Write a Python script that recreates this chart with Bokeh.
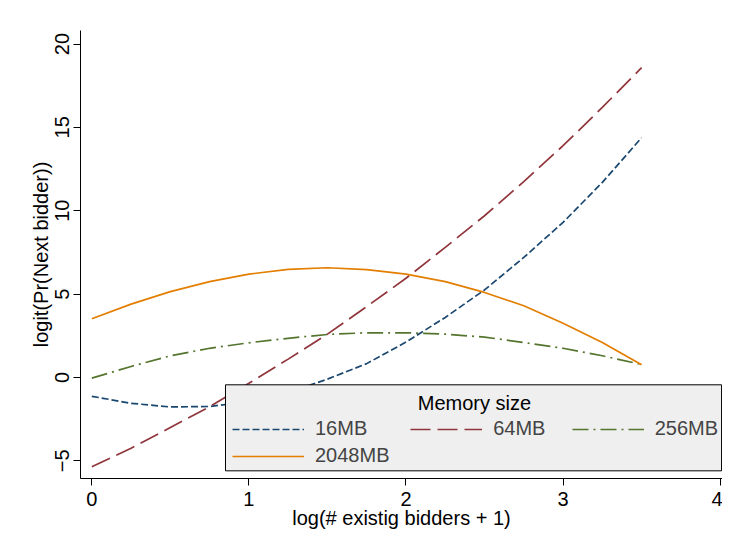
from bokeh.plotting import figure
from bokeh.models import Legend, LegendItem, Range1d, FixedTicker, Label, BoxAnnotation
from bokeh.embed import file_html
from bokeh.resources import INLINE

# ---- data ----
x_vals = [0.0, 0.25, 0.5, 0.75, 1.0, 1.25, 1.5, 1.75, 2.0, 2.25, 2.5, 2.75, 3.0, 3.25, 3.5]
mb16 = [-1.13, -1.55, -1.77, -1.74, -1.45, -0.9, -0.1, 0.83, 2.12, 3.6, 5.25, 7.2, 9.3, 11.7, 14.38]
mb64 = [-5.35, -4.25, -3.0, -1.75, -0.35, 1.1, 2.6, 4.25, 5.95, 7.8, 9.7, 11.75, 13.9, 16.2, 18.58]
mb256 = [-0.04, 0.66, 1.3, 1.75, 2.08, 2.35, 2.58, 2.68, 2.68, 2.6, 2.42, 2.1, 1.75, 1.3, 0.78]
mb2048 = [3.52, 4.4, 5.15, 5.75, 6.2, 6.48, 6.58, 6.47, 6.2, 5.75, 5.1, 4.3, 3.25, 2.1, 0.76]
series_labels = ["16MB", "64MB", "256MB", "2048MB"]
x_ticks = [0, 1, 2, 3, 4]
y_ticks = [-5, 0, 5, 10, 15, 20]
x_title = "log(# existig bidders + 1)"
y_title = "logit(Pr(Next bidder))"
legend_title = "Memory size"

FONT = "Liberation Sans"

p = figure(width=722, height=538, output_backend="svg", toolbar_location=None,
           x_range=Range1d(-0.072, 4.015), y_range=Range1d(-6.06, 20.81),
           min_border_left=80, min_border_right=0, min_border_top=30, min_border_bottom=60)
p.outline_line_color = None
p.xgrid.visible = False
p.ygrid.visible = False
p.background_fill_color = "white"
p.border_fill_color = "white"

styles = [
    (mb16, "#1a476f", "7 3"),
    (mb64, "#90353b", "20 7"),
    (mb256, "#55752f", "16 5 2 5"),
    (mb2048, "#e37e00", "solid"),
]
renderers = []
for ys, col, dash in styles:
    r = p.line(x_vals, ys, line_color=col, line_width=1.7, line_dash=dash)
    renderers.append(r)

for ax in (p.xaxis[0], p.yaxis[0]):
    ax.axis_line_color = "black"
    ax.axis_line_width = 1
    ax.major_tick_line_color = "black"
    ax.major_tick_out = 7
    ax.major_tick_in = 0
    ax.minor_tick_line_color = None
    ax.major_label_text_font = FONT
    ax.major_label_text_font_size = "20px"
    ax.major_label_text_color = "black"
    ax.axis_label_text_font = FONT
    ax.axis_label_text_font_size = "20px"
    ax.axis_label_text_font_style = "normal"
    ax.axis_label_text_color = "black"

p.xaxis[0].ticker = FixedTicker(ticks=x_ticks)
p.yaxis[0].ticker = FixedTicker(ticks=y_ticks)
p.xaxis[0].axis_label = x_title
p.yaxis[0].axis_label = y_title
p.yaxis[0].major_label_orientation = "vertical"
p.xaxis[0].major_label_standoff = 6
p.xaxis[0].axis_label_standoff = -2
p.yaxis[0].major_label_standoff = 4
p.yaxis[0].axis_label_standoff = 1

# legend background box (drawn separately so the centred title can sit on top)
legend_box = BoxAnnotation(left=0.851, right=4.009, top=-0.44, bottom=-5.6,
                           fill_color="#efefef", fill_alpha=1.0,
                           line_color="black", line_width=1, line_alpha=1.0)
p.add_layout(legend_box)

# trailing spaces widen the legend columns to match the reference spacing
legend_texts = ["16MB", "64MB    ", "256MB", "2048MB   "]
items = [LegendItem(label=lab, renderers=[r]) for lab, r in zip(legend_texts, renderers)]
legend = Legend(items=items, location=(152, 11), orientation="horizontal", ncols=3,
                title=" ")
legend.background_fill_alpha = 0.0
legend.border_line_color = None
legend.label_text_font = FONT
legend.label_text_font_size = "20px"
legend.title_text_font = FONT
legend.title_text_font_size = "20px"
legend.title_text_font_style = "normal"
legend.title_standoff = 2
legend.glyph_width = 72
legend.glyph_height = 20
legend.label_height = 20
legend.label_standoff = 11
legend.spacing = 4
legend.padding = 5
legend.margin = 0
p.add_layout(legend, "center")

title_label = Label(x=2.436, y=-1.52, text=legend_title, text_align="center",
                    text_baseline="middle", text_font=FONT, text_font_size="20px",
                    text_color="black", level="overlay")
p.add_layout(title_label)

open("out.html", "w").write(file_html(p, INLINE))
